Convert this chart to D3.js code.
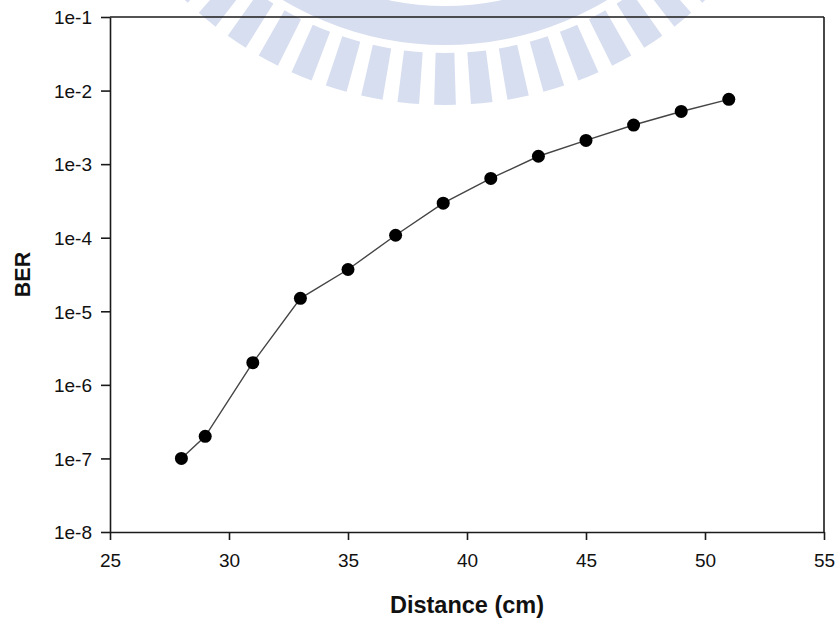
<!DOCTYPE html>
<html>
<head>
<meta charset="utf-8">
<script src="https://cdn.jsdelivr.net/npm/d3@7/dist/d3.min.js"></script>
<style>
  html, body { margin: 0; padding: 0; background: #fff; }
  svg { display: block; }
  text { font-family: "Liberation Sans", Arial, Helvetica, sans-serif; fill: #111; }
</style>
</head>
<body>
<svg id="chart" width="838" height="621"></svg>
<script>
// Measured bit error rate versus transmission distance
const distanceCm = [28, 29, 31, 33, 35, 37, 39, 41, 43, 45, 47, 49, 51];
const berValues  = [1.0e-7, 2.0e-7, 2.0e-6, 1.5e-5, 3.7e-5, 1.08e-4, 2.95e-4,
                    6.4e-4, 1.28e-3, 2.1e-3, 3.4e-3, 5.2e-3, 7.6e-3];

const xTicks = [25, 30, 35, 40, 45, 50, 55];
const yTicks = [1e-1, 1e-2, 1e-3, 1e-4, 1e-5, 1e-6, 1e-7, 1e-8];
const yTickLabels = ["1e-1", "1e-2", "1e-3", "1e-4", "1e-5", "1e-6", "1e-7", "1e-8"];

const xTitle = "Distance (cm)";
const yTitle = "BER";

const svg = d3.select("#chart");
const plot = { left: 110, right: 824, top: 17, bottom: 532 };

const x = d3.scaleLinear().domain([25, 55]).range([plot.left, plot.right]);
const y = d3.scaleLog().domain([1e-8, 1e-1]).range([plot.bottom, plot.top]);

// Faint emblem watermark behind the plot
const emblem = svg.append("g")
  .attr("transform", "translate(445,-270)")
  .attr("fill", "#d7def0");
emblem.append("path")
  .attr("d", d3.arc()({ innerRadius: 276, outerRadius: 315, startAngle: 0, endAngle: 2 * Math.PI }));
const spokeCount = 64;
const spokeHalf = 0.029;
const spokeArc = d3.arc().innerRadius(323).outerRadius(375);
d3.range(spokeCount).forEach(i => {
  const a = Math.PI + i * (2 * Math.PI / spokeCount);
  emblem.append("path").attr("d", spokeArc({ startAngle: a - spokeHalf, endAngle: a + spokeHalf }));
});

// Frame: top and right edges
const frame = svg.append("g").attr("stroke", "#1a1a1a").attr("stroke-width", 1.6);
frame.append("line").attr("x1", plot.left).attr("x2", plot.right).attr("y1", plot.top).attr("y2", plot.top);
frame.append("line").attr("x1", plot.right).attr("x2", plot.right).attr("y1", plot.top).attr("y2", plot.bottom);

// Bottom axis
const xAxis = svg.append("g")
  .attr("transform", `translate(0,${plot.bottom})`)
  .call(d3.axisBottom(x).tickValues(xTicks).tickFormat(d3.format("d")).tickSize(8).tickSizeOuter(0));

// Left axis
const yAxis = svg.append("g")
  .attr("transform", `translate(${plot.left},0)`)
  .call(d3.axisLeft(y).tickValues(yTicks)
    .tickFormat((d, i) => yTickLabels[i]).tickSize(9).tickSizeOuter(0));

[xAxis, yAxis].forEach(g => {
  g.select(".domain").attr("stroke", "#1a1a1a").attr("stroke-width", 1.6);
  g.selectAll(".tick line").attr("stroke", "#1a1a1a").attr("stroke-width", 1.6);
  g.selectAll(".tick text").attr("font-size", 19).attr("fill", "#111")
    .attr("font-family", "'Liberation Sans', Arial, sans-serif");
});
xAxis.selectAll(".tick text").attr("y", 35).attr("dy", null);
yAxis.selectAll(".tick text").attr("x", -18).attr("dy", "0.36em");

// Data line and markers
const line = d3.line().x((d, i) => x(distanceCm[i])).y(d => y(d));
svg.append("path")
  .datum(berValues)
  .attr("d", line)
  .attr("fill", "none")
  .attr("stroke", "#444")
  .attr("stroke-width", 1.4);

svg.append("g").selectAll("circle")
  .data(berValues)
  .join("circle")
  .attr("cx", (d, i) => x(distanceCm[i]))
  .attr("cy", d => y(d))
  .attr("r", 6.5)
  .attr("fill", "#000");

// Axis titles
svg.append("text")
  .attr("x", (plot.left + plot.right) / 2)
  .attr("y", 613)
  .attr("text-anchor", "middle")
  .attr("font-size", 23.5)
  .attr("font-weight", "bold")
  .text(xTitle);

svg.append("text")
  .attr("transform", `translate(29.5,${(plot.top + plot.bottom) / 2}) rotate(-90)`)
  .attr("text-anchor", "middle")
  .attr("font-size", 21.5)
  .attr("font-weight", "bold")
  .text(yTitle);
</script>
</body>
</html>
